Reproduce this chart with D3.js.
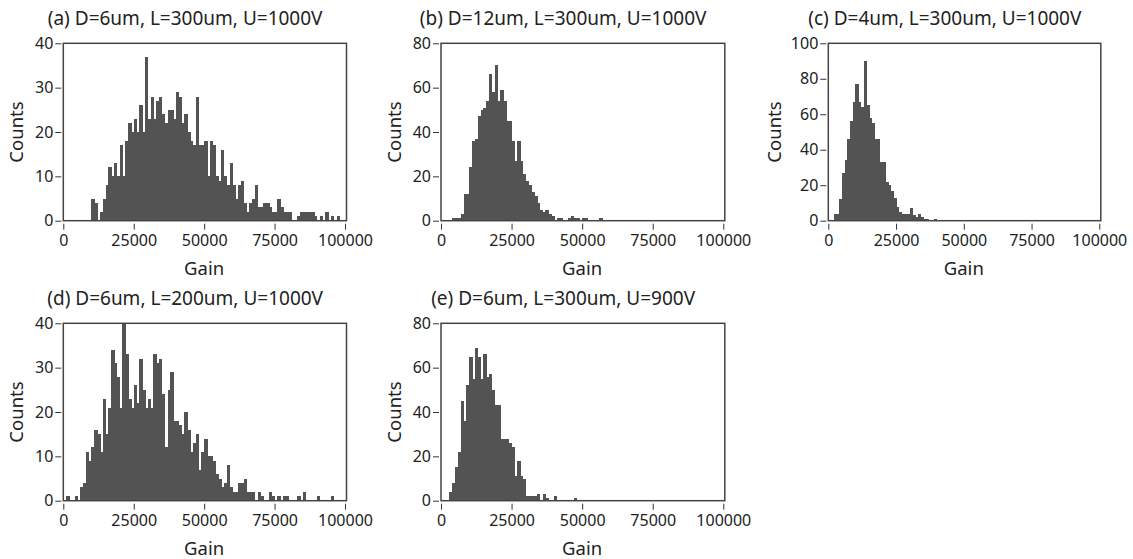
<!DOCTYPE html>
<html>
<head>
<meta charset="utf-8">
<script src="https://cdn.jsdelivr.net/npm/d3@7"></script>
<style>
  body { margin: 0; background: #fff; }
  svg { display: block; font-family: "Noto Sans", sans-serif; }
</style>
</head>
<body>
<div id="chart"></div>
<script>
// Histogram data: counts per 1000-wide gain bin, from 0 to 100000
const titles = [
    "(a) D=6um, L=300um, U=1000V",
    "(b) D=12um, L=300um, U=1000V",
    "(c) D=4um, L=300um, U=1000V",
    "(d) D=6um, L=200um, U=1000V",
    "(e) D=6um, L=300um, U=900V"
];
const binSize = 1000;
const gainTicks = [0, 25000, 50000, 75000, 100000];
const countTicks40 = [0, 10, 20, 30, 40];
const countTicks80 = [0, 20, 40, 60, 80];
const countTicks100 = [0, 20, 40, 60, 80, 100];

const countsA = [
    0, 0, 0, 0, 0, 0, 0, 0, 0, 0,
    5, 4, 0, 2, 5, 8, 12, 10, 13, 10,
    17, 10, 18, 22, 20, 23, 20, 26, 20, 37,
    23, 28, 23, 27, 28, 24, 22, 25, 25, 23,
    29, 28, 22, 24, 20, 18, 17, 28, 17, 17,
    18, 10, 18, 17, 10, 9, 16, 10, 8, 13,
    8, 5, 8, 9, 4, 2, 4, 5, 8, 3,
    3, 4, 4, 3, 2, 2, 5, 3, 2, 2,
    2, 0, 0, 1, 2, 2, 2, 2, 2, 1,
    0, 1, 0, 2, 0, 1, 0, 1, 0, 0
];
const countsB = [
    0, 0, 0, 0, 1, 1, 1, 3, 12, 12,
    24, 36, 37, 47, 50, 51, 54, 66, 58, 70,
    54, 59, 54, 45, 45, 36, 27, 36, 27, 21,
    18, 16, 13, 11, 8, 5, 4, 5, 3, 2,
    0, 1, 1, 0, 0, 1, 2, 1, 1, 0,
    1, 1, 0, 0, 0, 0, 1, 0, 0, 0,
    0, 0, 0, 0, 0, 0, 0, 0, 0, 0,
    0, 0, 0, 0, 0, 0, 0, 0, 0, 0,
    0, 0, 0, 0, 0, 0, 0, 0, 0, 0,
    0, 0, 0, 0, 0, 0, 0, 0, 0, 0
];
const countsC = [
    0, 0, 4, 4, 12, 27, 34, 46, 56, 67,
    77, 67, 64, 90, 65, 58, 55, 46, 46, 33,
    33, 22, 20, 17, 13, 8, 5, 4, 4, 4,
    7, 3, 2, 4, 2, 1, 1, 0, 0, 1,
    0, 0, 0, 0, 0, 0, 0, 0, 0, 0,
    0, 0, 0, 0, 0, 0, 0, 0, 0, 0,
    0, 0, 0, 0, 0, 0, 0, 0, 0, 0,
    0, 0, 0, 0, 0, 0, 0, 0, 0, 0,
    0, 0, 0, 0, 0, 0, 0, 0, 0, 0,
    0, 0, 0, 0, 0, 0, 0, 0, 0, 0
];
const countsD = [
    0, 1, 0, 0, 1, 0, 3, 4, 11, 9,
    12, 16, 15, 11, 23, 15, 21, 34, 31, 28,
    21, 40, 33, 23, 21, 26, 22, 32, 25, 21,
    23, 21, 33, 31, 32, 24, 12, 25, 29, 18,
    18, 17, 15, 20, 16, 11, 13, 15, 7, 11,
    14, 10, 10, 9, 6, 5, 3, 4, 8, 3,
    2, 2, 4, 4, 5, 2, 2, 2, 0, 2,
    1, 0, 0, 2, 1, 0, 1, 0, 1, 1,
    0, 0, 0, 1, 0, 2, 0, 0, 0, 0,
    1, 0, 0, 0, 0, 1, 0, 0, 0, 0
];
const countsE = [
    0, 0, 0, 4, 8, 15, 22, 45, 36, 52,
    65, 55, 69, 65, 55, 66, 56, 57, 50, 43,
    43, 28, 28, 28, 26, 24, 11, 18, 11, 10,
    2, 2, 2, 2, 3, 0, 3, 1, 0, 0,
    2, 0, 0, 0, 0, 0, 0, 1, 0, 0,
    0, 0, 0, 0, 0, 0, 0, 0, 0, 0,
    0, 0, 0, 0, 0, 0, 0, 0, 0, 0,
    0, 0, 0, 0, 0, 0, 0, 0, 0, 0,
    0, 0, 0, 0, 0, 0, 0, 0, 0, 0,
    0, 0, 0, 0, 0, 0, 0, 0, 0, 0
];

// Panel layout (pixel positions of each plot area)
const panels = [
    { title: titles[0], counts: countsA, yMax: 40, yTicks: countTicks40, left: 63.3, right: 345, top: 43.3, bottom: 220.7, labelOff: 40.5 },
    { title: titles[1], counts: countsB, yMax: 80, yTicks: countTicks80, left: 441, right: 723.3, top: 43.3, bottom: 220.7, labelOff: 40.5 },
    { title: titles[2], counts: countsC, yMax: 100, yTicks: countTicks100, left: 828.3, right: 1099.3, top: 43.3, bottom: 220.7, labelOff: 47.5 },
    { title: titles[3], counts: countsD, yMax: 40, yTicks: countTicks40, left: 63.3, right: 345, top: 323.3, bottom: 500.7, labelOff: 40.5 },
    { title: titles[4], counts: countsE, yMax: 80, yTicks: countTicks80, left: 441, right: 723.3, top: 323.3, bottom: 500.7, labelOff: 40.5 }
];

const width = 1133;
const height = 559;
const textColor = "#222";

const svg = d3.select("#chart").append("svg")
    .attr("width", width)
    .attr("height", height)
    .attr("viewBox", [0, 0, width, height]);

function drawHistogram(p) {
    const g = svg.append("g");

    const x = d3.scaleLinear()
        .domain([0, 100000])
        .range([p.left, p.right]);

    const y = d3.scaleLinear()
        .domain([0, p.yMax])
        .range([p.bottom, p.top]);

    const bins = p.counts.map((c, i) => ({ x0: i * binSize, x1: (i + 1) * binSize, count: c }))
        .filter(d => d.count > 0);

    // bars (slight overlap so no seams show between neighbours)
    g.append("g")
        .attr("fill", "#535353")
        .attr("shape-rendering", "crispEdges")
        .selectAll("rect")
        .data(bins)
        .join("rect")
        .attr("x", d => x(d.x0))
        .attr("y", d => y(d.count))
        .attr("width", d => x(d.x1) - x(d.x0) + 0.6)
        .attr("height", d => y(0) - y(d.count));

    // frame around the plot area
    g.append("rect")
        .attr("x", p.left)
        .attr("y", p.top)
        .attr("width", p.right - p.left + 1.5)
        .attr("height", p.bottom - p.top)
        .attr("fill", "none")
        .attr("stroke", "#444")
        .attr("stroke-width", 1.5);

    // x axis, a bit below the frame
    const gx = g.append("g")
        .attr("transform", `translate(0,${p.bottom + 3})`)
        .call(d3.axisBottom(x).tickValues(gainTicks).tickFormat(d3.format("d")).tickSize(6).tickPadding(5))
        .call(a => a.select(".domain").remove());

    // y axis, a bit left of the frame
    const gy = g.append("g")
        .attr("transform", `translate(${p.left - 2},0)`)
        .call(d3.axisLeft(y).tickValues(p.yTicks).tickSize(6).tickPadding(2))
        .call(a => a.select(".domain").remove());

    [gx, gy].forEach(a => {
        a.selectAll("line").attr("stroke", "#333");
        a.selectAll("text")
            .attr("fill", textColor)
            .style("font-size", "16px")
            .style("font-family", "'Noto Sans', sans-serif");
    });

    // axis titles
    g.append("text")
        .attr("x", (p.left + p.right) / 2)
        .attr("y", p.bottom + 54)
        .attr("text-anchor", "middle")
        .attr("fill", textColor)
        .style("font-size", "18.5px")
        .text("Gain");

    g.append("text")
        .attr("transform", `translate(${p.left - p.labelOff},${(p.top + p.bottom) / 2}) rotate(-90)`)
        .attr("text-anchor", "middle")
        .attr("fill", textColor)
        .style("font-size", "18.5px")
        .text("Counts");

    // panel title
    g.append("text")
        .attr("x", (p.left + p.right) / 2 - 19)
        .attr("y", p.top - 18.5)
        .attr("text-anchor", "middle")
        .attr("fill", textColor)
        .style("font-size", "19px")
        .text(p.title);
}

panels.forEach(drawHistogram);
</script>
</body>
</html>
